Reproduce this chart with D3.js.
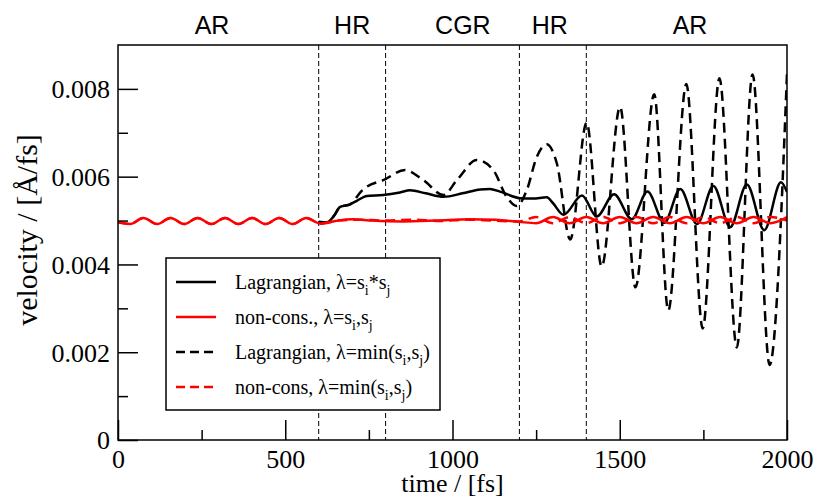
<!DOCTYPE html>
<html>
<head>
<meta charset="utf-8">
<script src="https://cdn.jsdelivr.net/npm/d3@7"></script>
<style>
  body { margin: 0; background: #fff; }
  svg { display: block; }
</style>
</head>
<body>
<div id="chart"></div>
<script>
// ---- data: [time fs, velocity Å/fs] ----
var redStart = [
  [0, 0.00496], [36, 0.00492], [76, 0.00506], [117, 0.00492], [157, 0.00506],
  [198, 0.00492], [238, 0.00506], [279, 0.00492], [320, 0.00506], [360, 0.00492],
  [401, 0.00506], [441, 0.00492], [482, 0.00506], [522, 0.00492], [563, 0.00506],
  [605, 0.00493]
];
var redSolidTail = [
  [650, 0.00499], [700, 0.00503], [760, 0.00500], [850, 0.00498], [950, 0.00500],
  [1050, 0.00503], [1130, 0.00502], [1200, 0.00497], [1250, 0.00494], [1300, 0.00508],
  [1350, 0.00494], [1400, 0.00508], [1450, 0.00494], [1500, 0.00508], [1550, 0.00494],
  [1600, 0.00508], [1650, 0.00494], [1700, 0.00508], [1750, 0.00494], [1800, 0.00508],
  [1850, 0.00494], [1900, 0.00508], [1950, 0.00494], [2000, 0.00508]
];
var redDashedTail = [
  [660, 0.00500], [720, 0.00502], [800, 0.00500], [880, 0.00502], [960, 0.00499],
  [1040, 0.00502], [1120, 0.00500], [1200, 0.00498], [1250, 0.00508], [1300, 0.00494],
  [1350, 0.00508], [1400, 0.00494], [1450, 0.00508], [1500, 0.00494], [1550, 0.00508],
  [1600, 0.00494], [1650, 0.00508], [1700, 0.00494], [1750, 0.00508], [1800, 0.00494],
  [1850, 0.00508], [1900, 0.00494], [1950, 0.00508], [2000, 0.00500]
];
var blackSolid = [
  [600, 0.00497], [625, 0.00496], [645, 0.00510], [664, 0.00531], [694, 0.00537],
  [714, 0.00545], [744, 0.00556], [793, 0.00558], [843, 0.00564], [873, 0.00569],
  [920, 0.00562], [973, 0.00554], [1030, 0.00562], [1083, 0.00571], [1112, 0.00572],
  [1142, 0.00566], [1202, 0.00551], [1240, 0.00550], [1282, 0.00553], [1300, 0.00540],
  [1332, 0.00513], [1387, 0.00557], [1431, 0.00509], [1483, 0.00560], [1536, 0.00503],
  [1583, 0.00566], [1633, 0.00495], [1681, 0.00572], [1731, 0.00492], [1780, 0.00579],
  [1830, 0.00485], [1880, 0.00582], [1932, 0.00478], [1982, 0.00587], [2000, 0.00565]
];
var blackDashed = [
  [600, 0.00497], [625, 0.00496], [645, 0.00510], [664, 0.00531], [694, 0.00537],
  [703, 0.00543], [725, 0.00565], [744, 0.00577], [793, 0.00592], [858, 0.00615],
  [913, 0.00592], [973, 0.00558], [1013, 0.00592], [1073, 0.00638], [1122, 0.00615],
  [1162, 0.00554], [1192, 0.00533], [1222, 0.00569], [1252, 0.00645], [1282, 0.00674],
  [1312, 0.00630], [1352, 0.00457], [1401, 0.00723], [1446, 0.00395], [1501, 0.00759],
  [1547, 0.00348], [1603, 0.00788], [1645, 0.00295], [1699, 0.00811], [1748, 0.00254],
  [1798, 0.00824], [1850, 0.00211], [1897, 0.00833], [1948, 0.00171], [2000, 0.00835]
];

var xMajorTicks = [0, 500, 1000, 1500, 2000];
var xMinorTicks = [250, 750, 1250, 1750];
var yMajorTicks = [0, 0.002, 0.004, 0.006, 0.008];
var yMinorTicks = [0.001, 0.003, 0.005, 0.007];
var regionBounds = [600, 800, 1200, 1400];
var regionNames = ["AR", "HR", "CGR", "HR", "AR"];
var regionCenters = [281, 700, 1031, 1291, 1710];
var legendLabels = [
  "Lagrangian, λ=s_i*s_j",
  "non-cons., λ=s_i,s_j",
  "Lagrangian, λ=min(s_i,s_j)",
  "non-cons, λ=min(s_i,s_j)"
];

// ---- layout ----
var attrs = {
  svgWidth: 816,
  svgHeight: 499,
  marginTop: 45,
  marginBottom: 59,
  marginLeft: 118,
  marginRight: 29,
  serif: "'Liberation Serif', 'Times New Roman', serif",
  sans: "'Liberation Sans', Arial, sans-serif"
};
var calc = {};
calc.w = attrs.svgWidth - attrs.marginLeft - attrs.marginRight;
calc.h = attrs.svgHeight - attrs.marginTop - attrs.marginBottom;

var x = d3.scaleLinear().domain([0, 2000]).range([0, calc.w]);
var y = d3.scaleLinear().domain([0, 0.009]).range([calc.h, 0]);

var svg = d3.select("#chart").append("svg")
  .attr("width", attrs.svgWidth)
  .attr("height", attrs.svgHeight);

var chart = svg.append("g")
  .attr("transform", "translate(" + attrs.marginLeft + "," + attrs.marginTop + ")");

svg.append("defs").append("clipPath").attr("id", "clip")
  .append("rect").attr("width", calc.w).attr("height", calc.h);

// region separators
chart.selectAll(".sep").data(regionBounds).enter().append("line")
  .attr("class", "sep")
  .attr("x1", d => x(d)).attr("x2", d => x(d))
  .attr("y1", 0).attr("y2", calc.h)
  .attr("stroke", "#000").attr("stroke-width", 1)
  .attr("stroke-dasharray", "5,3");

// region names above the frame
svg.selectAll(".region").data(regionNames).enter().append("text")
  .attr("class", "region")
  .attr("x", (d, i) => attrs.marginLeft + x(regionCenters[i]))
  .attr("y", 34)
  .attr("text-anchor", "middle")
  .attr("font-family", attrs.sans)
  .attr("font-size", 25)
  .text(d => d);

// series (in legend order)
var line = d3.line()
  .x(d => x(d[0]))
  .y(d => y(d[1]))
  .curve(d3.curveMonotoneX);

var series = [
  { data: blackSolid, color: "#000", dash: null, z: 0 },
  { data: redStart.concat(redSolidTail), color: "#ff0000", dash: null, z: 2 },
  { data: blackDashed, color: "#000", dash: "10,6", z: 1 },
  { data: redStart.concat(redDashedTail), color: "#ff0000", dash: "10,6", z: 3 }
];

var lines = chart.append("g").attr("clip-path", "url(#clip)");
lines.selectAll("path").data(series.slice().sort((a, b) => a.z - b.z)).enter().append("path")
  .attr("d", d => line(d.data))
  .attr("fill", "none")
  .attr("stroke", d => d.color)
  .attr("stroke-width", 2.5)
  .attr("stroke-dasharray", d => d.dash);

// axes with inward ticks
var xAxis = chart.append("g").attr("transform", "translate(0," + calc.h + ")");
xAxis.call(d3.axisBottom(x).tickValues(xMajorTicks).tickSize(-20).tickFormat(d3.format("d")));
xAxis.append("g").call(d3.axisBottom(x).tickValues(xMinorTicks).tickSize(-10).tickFormat(""));

var yAxis = chart.append("g");
yAxis.call(d3.axisLeft(y).tickValues(yMajorTicks).tickSize(-20)
  .tickFormat(d => d === 0 ? "0" : d3.format(".3f")(d)));
yAxis.append("g").call(d3.axisLeft(y).tickValues(yMinorTicks).tickSize(-10).tickFormat(""));

chart.selectAll(".domain").remove();
chart.selectAll(".tick line").attr("stroke", "#000").attr("stroke-width", 1.5);
chart.selectAll(".tick text")
  .attr("font-family", attrs.serif)
  .attr("font-size", 26)
  .attr("fill", "#000");
xAxis.selectAll(".tick text").attr("y", 28).attr("dy", 0);
yAxis.selectAll(".tick text").attr("x", -8).attr("dy", "0.34em");

// frame
chart.append("rect")
  .attr("width", calc.w).attr("height", calc.h)
  .attr("fill", "none").attr("stroke", "#000").attr("stroke-width", 1.5);

// axis titles
svg.append("text")
  .attr("x", attrs.marginLeft + calc.w / 2)
  .attr("y", 492)
  .attr("text-anchor", "middle")
  .attr("font-family", attrs.serif)
  .attr("font-size", 26)
  .text("time / [fs]");

svg.append("text")
  .attr("transform", "translate(37,230) rotate(-90)")
  .attr("text-anchor", "middle")
  .attr("font-family", attrs.serif)
  .attr("font-size", 30)
  .text("velocity / [Å/fs]");

// legend
var legend = svg.append("g").attr("transform", "translate(166,258)");
legend.append("rect")
  .attr("width", 274).attr("height", 152)
  .attr("fill", "#fff").attr("stroke", "#000").attr("stroke-width", 1.5);

var rows = legend.selectAll(".row").data(series).enter().append("g")
  .attr("class", "row")
  .attr("transform", (d, i) => "translate(0," + (24 + i * 35) + ")");

rows.append("line")
  .attr("x1", 10).attr("x2", 50)
  .attr("stroke", d => d.color)
  .attr("stroke-width", 2.5)
  .attr("stroke-dasharray", d => d.dash ? "9,5" : null);

rows.each(function (d, i) {
  var t = d3.select(this).append("text")
    .attr("x", 69).attr("y", 7)
    .attr("font-family", attrs.serif)
    .attr("font-size", 20);
  var lowered = false;
  legendLabels[i].split(/(_[ij])/).forEach(function (part) {
    if (!part) return;
    if (part[0] === "_") {
      t.append("tspan").attr("font-size", 14).attr("dy", 6).text(part.slice(1));
      lowered = true;
    } else {
      t.append("tspan").attr("dy", lowered ? -6 : null).text(part);
      lowered = false;
    }
  });
});
</script>
</body>
</html>
